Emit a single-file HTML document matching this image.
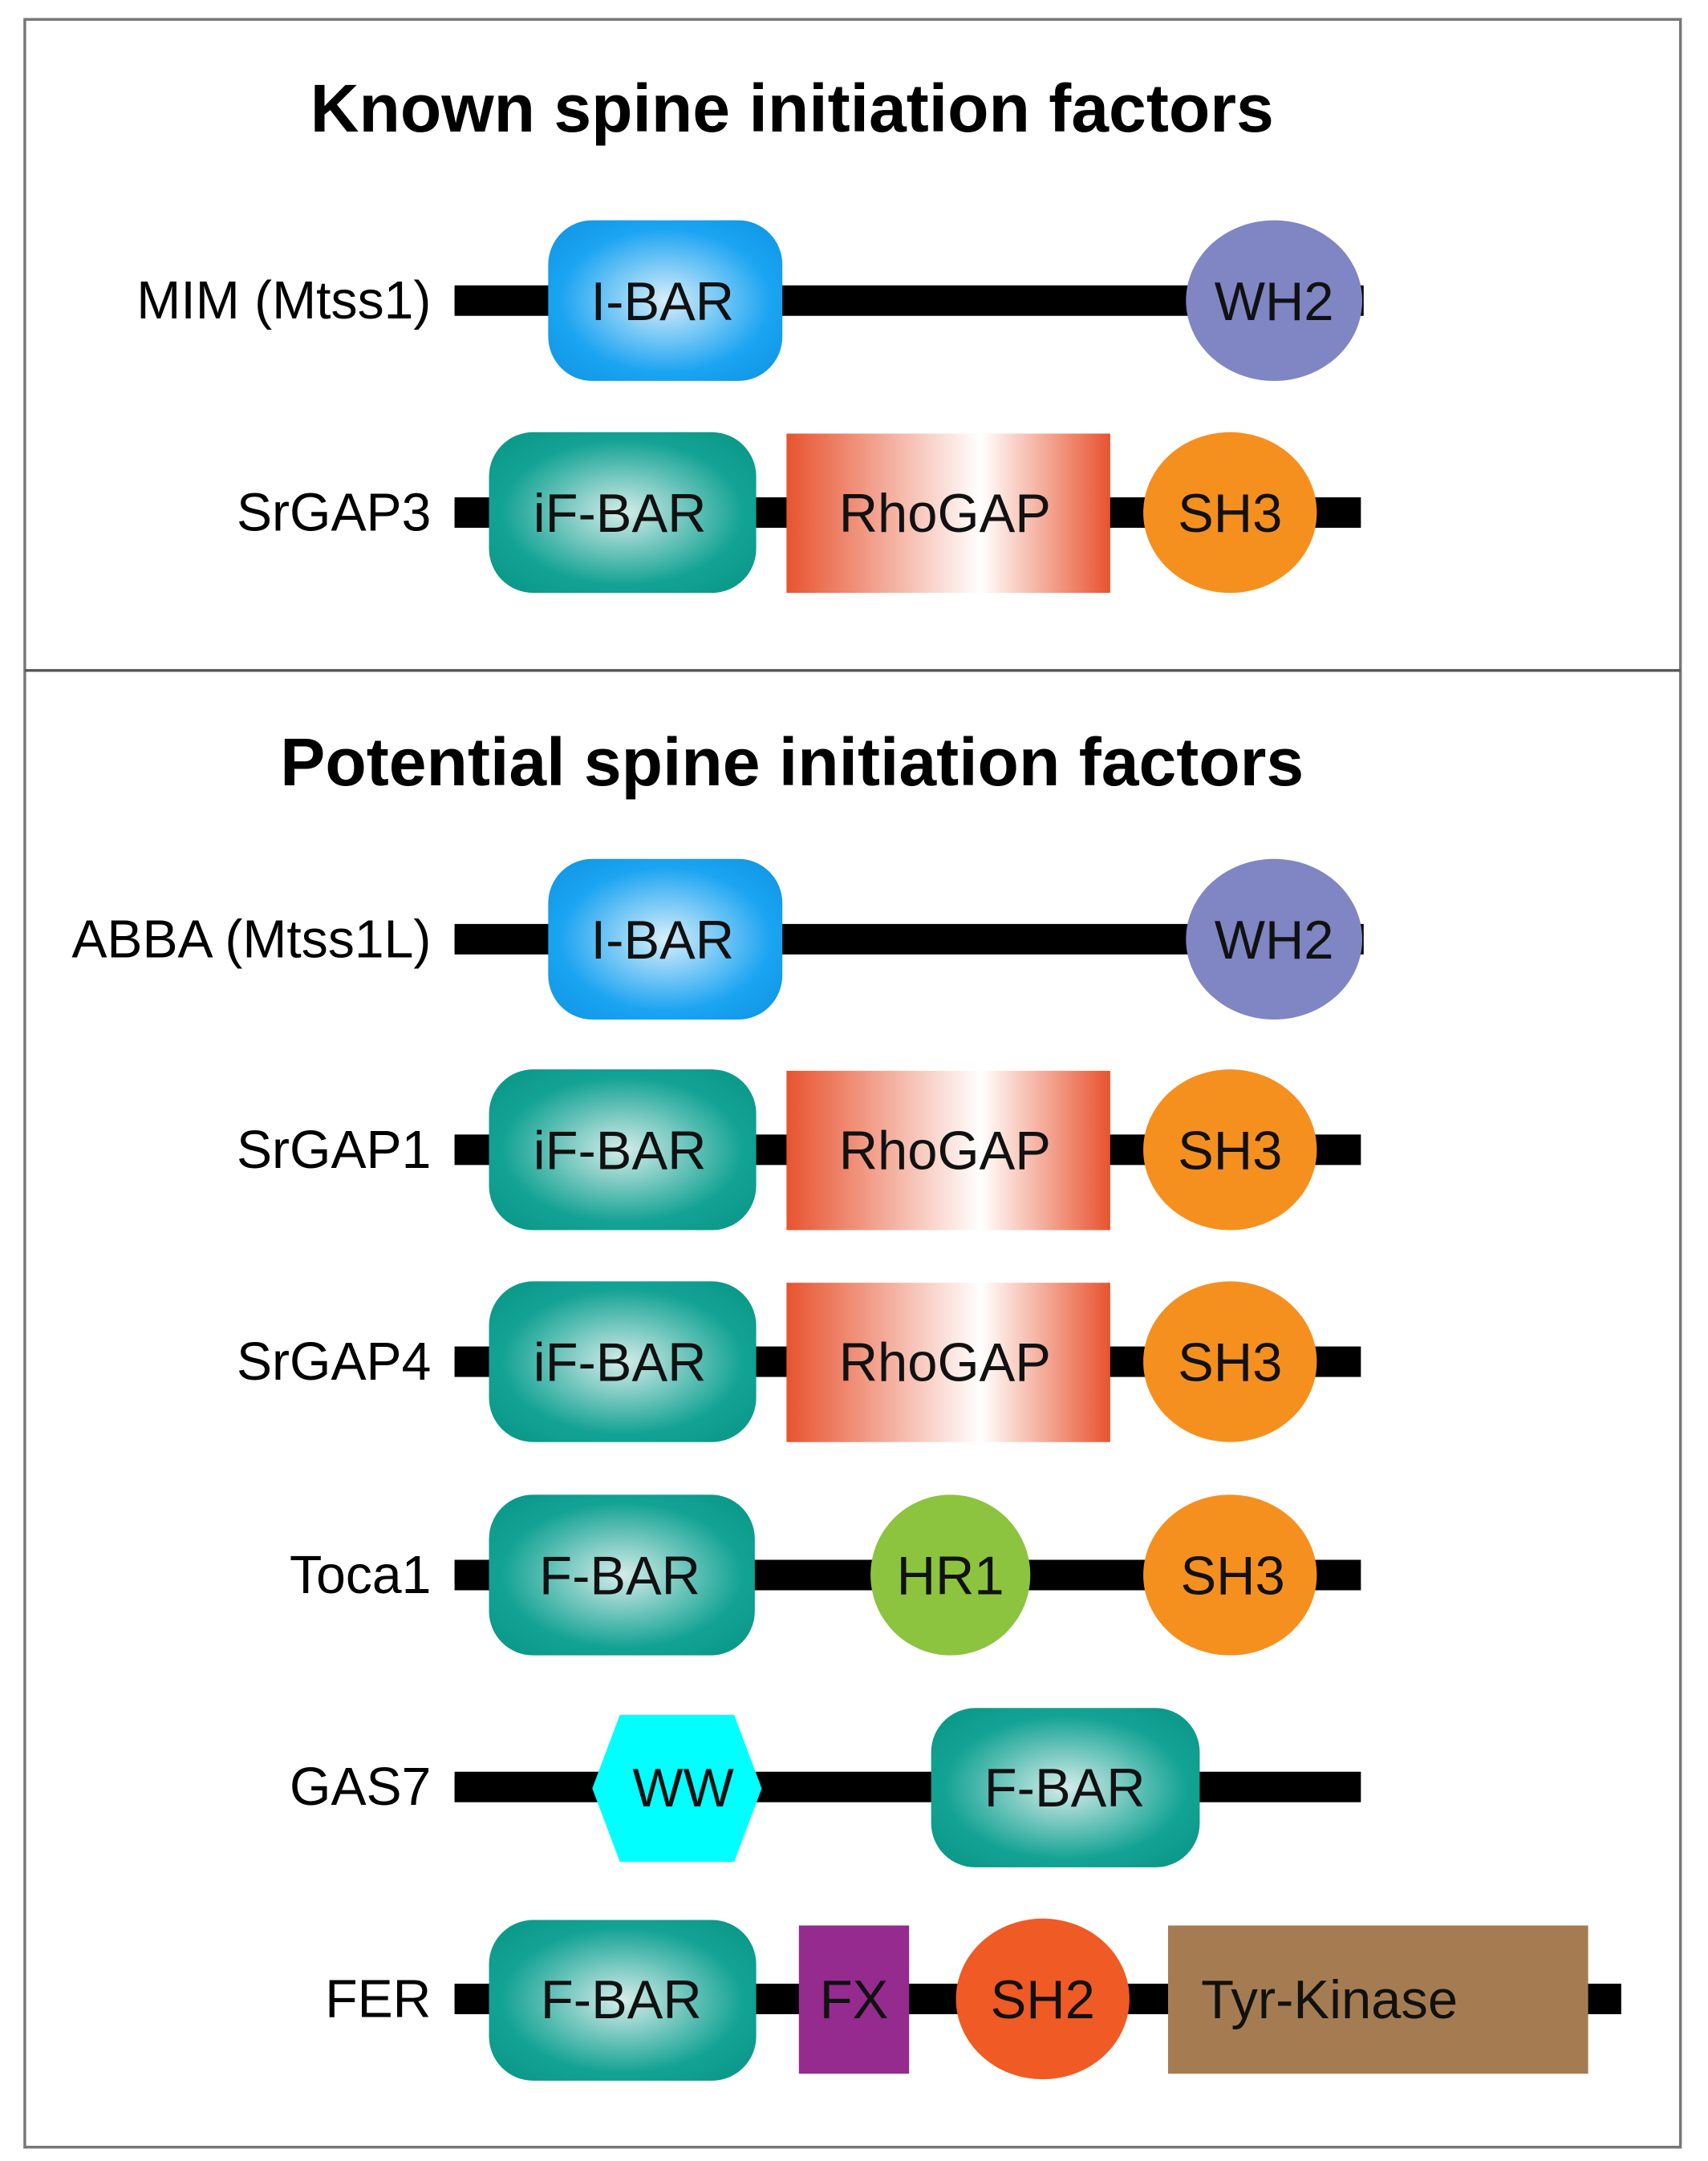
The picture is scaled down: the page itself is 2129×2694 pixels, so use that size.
<!DOCTYPE html>
<html><head><meta charset="utf-8"><style>html,body{margin:0;padding:0;background:#fff}svg{display:block}</style></head>
<body>
<svg width="2129" height="2694" viewBox="0 0 1240 1560" preserveAspectRatio="none" xmlns="http://www.w3.org/2000/svg" font-family="Liberation Sans, Arial, sans-serif">
<defs>
<radialGradient id="blue" cx="0.5" cy="0.5" r="0.6"><stop offset="0" stop-color="#d8eefa"/><stop offset="0.75" stop-color="#1aa4f2"/><stop offset="1" stop-color="#139ae8"/></radialGradient>
<radialGradient id="teal" cx="0.5" cy="0.5" r="0.6"><stop offset="0" stop-color="#d5ece9"/><stop offset="0.75" stop-color="#13a394"/><stop offset="1" stop-color="#0c9a8b"/></radialGradient>
<linearGradient id="rho" x1="0" x2="1" y1="0" y2="0"><stop offset="0" stop-color="#e8532f"/><stop offset="0.6" stop-color="#ffffff"/><stop offset="1" stop-color="#e8532f"/></linearGradient>
</defs>
<rect x="18" y="14" width="1202" height="1536" fill="#fff" stroke="#777" stroke-width="2"/>
<line x1="18" y1="484" x2="1220" y2="484" stroke="#555" stroke-width="2"/>
<g font-weight="bold" font-size="49" text-anchor="middle" fill="#000">
<text x="575" y="95">Known spine initiation factors</text>
<text x="575" y="567">Potential spine initiation factors</text>
</g>
<g font-size="38.5" text-anchor="end" fill="#000">
<text x="313" y="230">MIM (Mtss1)</text>
<text x="313" y="383">SrGAP3</text>
<text x="313" y="691">ABBA (Mtss1L)</text>
<text x="313" y="843">SrGAP1</text>
<text x="313" y="996">SrGAP4</text>
<text x="313" y="1150">Toca1</text>
<text x="313" y="1303">GAS7</text>
<text x="313" y="1456">FER</text>
</g>
<g fill="#000">
<rect x="330" y="206" width="660" height="22"/>
<rect x="330" y="359" width="658" height="22"/>
<rect x="330" y="667" width="660" height="22"/>
<rect x="330" y="819" width="658" height="22"/>
<rect x="330" y="972" width="658" height="22"/>
<rect x="330" y="1126" width="658" height="22"/>
<rect x="330" y="1279" width="658" height="22"/>
<rect x="330" y="1432" width="847" height="22"/>
</g>
<g font-size="39" text-anchor="middle" fill="#111">
<rect x="398" y="159" width="170" height="116" rx="32" fill="url(#blue)"/><text x="481" y="231">I-BAR</text>
<ellipse cx="925" cy="217" rx="64" ry="58" fill="#7f86c3"/><text x="925" y="231">WH2</text>
<rect x="355" y="312" width="194" height="116" rx="32" fill="url(#teal)"/><text x="450" y="384">iF-BAR</text>
<rect x="571" y="313" width="235" height="115" fill="url(#rho)"/><text x="686" y="384">RhoGAP</text>
<ellipse cx="893" cy="370" rx="63" ry="58" fill="#f5901f"/><text x="893" y="384">SH3</text>
<rect x="398" y="620" width="170" height="116" rx="32" fill="url(#blue)"/><text x="481" y="692">I-BAR</text>
<ellipse cx="925" cy="678" rx="64" ry="58" fill="#7f86c3"/><text x="925" y="692">WH2</text>
<rect x="355" y="772" width="194" height="116" rx="32" fill="url(#teal)"/><text x="450" y="844">iF-BAR</text>
<rect x="571" y="773" width="235" height="115" fill="url(#rho)"/><text x="686" y="844">RhoGAP</text>
<ellipse cx="893" cy="830" rx="63" ry="58" fill="#f5901f"/><text x="893" y="844">SH3</text>
<rect x="355" y="925" width="194" height="116" rx="32" fill="url(#teal)"/><text x="450" y="997">iF-BAR</text>
<rect x="571" y="926" width="235" height="115" fill="url(#rho)"/><text x="686" y="997">RhoGAP</text>
<ellipse cx="893" cy="983" rx="63" ry="58" fill="#f5901f"/><text x="893" y="997">SH3</text>
<rect x="355" y="1079" width="193" height="116" rx="32" fill="url(#teal)"/><text x="450" y="1151">F-BAR</text>
<ellipse cx="690" cy="1137" rx="58" ry="58" fill="#8cc43f"/><text x="690" y="1151">HR1</text>
<ellipse cx="893" cy="1137" rx="63" ry="58" fill="#f5901f"/><text x="895" y="1151">SH3</text>
<polygon points="430,1291 450,1238 533,1238 553,1291 533,1344 450,1344" fill="#00ffff"/><text x="496" y="1304">WW</text>
<rect x="676" y="1233" width="195" height="115" rx="32" fill="url(#teal)"/><text x="773" y="1304">F-BAR</text>
<rect x="355" y="1386" width="194" height="116" rx="32" fill="url(#teal)"/><text x="451" y="1457">F-BAR</text>
<rect x="580" y="1390" width="80" height="107" fill="#952a8f"/><text x="620" y="1457">FX</text>
<ellipse cx="757" cy="1443" rx="63" ry="58" fill="#ef5a25"/><text x="757" y="1457">SH2</text>
<rect x="848" y="1390" width="305" height="107" fill="#a57c52"/><text x="872" y="1457" text-anchor="start">Tyr-Kinase</text>
</g>
</svg>
</body></html>
